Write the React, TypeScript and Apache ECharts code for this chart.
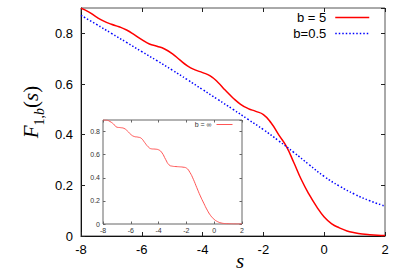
import React, { useEffect, useRef } from 'react';
import * as echarts from 'echarts';

// s values for the b = 5 curve and inset b = ∞ curve (step 0.25)
const sFine = [
  -8, -7.75, -7.5, -7.25, -7, -6.75, -6.5, -6.25, -6, -5.75, -5.5, -5.25, -5, -4.75, -4.5, -4.25,
  -4, -3.75, -3.5, -3.25, -3, -2.75, -2.5, -2.25, -2, -1.75, -1.5, -1.25, -1, -0.75, -0.5, -0.25,
  0, 0.25, 0.5, 0.75, 1, 1.25, 1.5, 1.75, 2,
];
const fB5 = [
  0.899, 0.885, 0.865, 0.848, 0.836, 0.826, 0.813, 0.795, 0.775, 0.758, 0.749, 0.738, 0.72, 0.695, 0.672, 0.656,
  0.645, 0.632, 0.607, 0.575, 0.545, 0.52, 0.503, 0.492, 0.479, 0.447, 0.4, 0.355, 0.29, 0.222, 0.165, 0.116,
  0.075, 0.048, 0.032, 0.02, 0.013, 0.008, 0.005, 0.003, 0.002,
];
const fInf = [
  0.9, 0.899, 0.887, 0.866, 0.838, 0.834, 0.828, 0.806, 0.775, 0.757, 0.752, 0.742, 0.705, 0.668, 0.65, 0.648,
  0.642, 0.615, 0.56, 0.512, 0.5, 0.497, 0.495, 0.492, 0.484, 0.447, 0.387, 0.314, 0.243, 0.18, 0.12, 0.072,
  0.04, 0.02, 0.009, 0.004, 0.002, 0.001, 0, 0, 0,
];
// s values for the b = 0.5 curve (step 0.5)
const sHalf = [-8, -7.5, -7, -6.5, -6, -5.5, -5, -4.5, -4, -3.5, -3, -2.5, -2, -1.5, -1, -0.5, 0, 0.5, 1, 1.5, 2];
const fB05 = [
  0.871, 0.836, 0.8, 0.764, 0.728, 0.692, 0.655, 0.617, 0.578, 0.539, 0.5, 0.46, 0.42, 0.376, 0.33, 0.282,
  0.235, 0.197, 0.165, 0.139, 0.118,
];

const seriesNames = ['b = 5', 'b=0.5', 'b = ∞'];

const pairs = (xs: number[], ys: number[]) => xs.map((x, i) => [x, ys[i]]);

const FONT = 'Liberation Sans, Arial, sans-serif';
const RED = '#ff0000';
const BLUE = '#0000ff';
const PALE_RED = '#ff5555';

export default function App() {
  const ref = useRef<HTMLDivElement>(null);
  useEffect(() => {
    if (!ref.current) return;
    const chart = echarts.init(ref.current, undefined, { renderer: 'svg' });
    const mainTick = { show: true, inside: true, length: 4, lineStyle: { color: '#222' } };
    const insetTick = { show: true, inside: true, length: 2.5, lineStyle: { color: '#666' } };
    const hiddenLine = { show: false, onZero: false };
    const noSymbol = { opacity: 0 };
    const option: any = {
      animation: false,
      backgroundColor: '#fff',
      grid: [
        { left: 81, right: 30, top: 8, bottom: 35, show: true, borderColor: '#555', borderWidth: 1 },
        {
          left: 103, right: 173, top: 120, bottom: 47, show: true, backgroundColor: '#fff',
          borderColor: '#666', borderWidth: 1, z: 10,
        },
      ],
      xAxis: [
        {
          type: 'value', gridIndex: 0, min: -8, max: 2, interval: 2, position: 'bottom',
          axisLine: { show: true, onZero: false, lineStyle: { color: '#111', width: 1 } },
          axisTick: mainTick, splitLine: { show: false },
          axisLabel: { fontFamily: FONT, fontSize: 13, color: '#000', margin: 7 },
        },
        {
          type: 'value', gridIndex: 0, min: -8, max: 2, interval: 2, position: 'top',
          axisLine: hiddenLine, axisTick: mainTick, splitLine: { show: false },
          axisLabel: { show: false },
        },
        {
          type: 'value', gridIndex: 1, min: -8, max: 2, interval: 2, position: 'bottom', z: 11,
          axisLine: hiddenLine, axisTick: insetTick, splitLine: { show: false },
          axisLabel: { fontFamily: FONT, fontSize: 7, color: '#333', margin: 3 },
        },
        {
          type: 'value', gridIndex: 1, min: -8, max: 2, interval: 2, position: 'top', z: 11,
          axisLine: hiddenLine, axisTick: insetTick, splitLine: { show: false },
          axisLabel: { show: false },
        },
      ],
      yAxis: [
        {
          type: 'value', gridIndex: 0, min: 0, max: 0.9, interval: 0.2, position: 'left',
          axisLine: { show: true, onZero: false, lineStyle: { color: '#111', width: 1 } },
          axisTick: mainTick, splitLine: { show: false },
          axisLabel: { fontFamily: FONT, fontSize: 13, color: '#000', margin: 8, showMaxLabel: false },
        },
        {
          type: 'value', gridIndex: 0, min: 0, max: 0.9, interval: 0.2, position: 'right',
          axisLine: hiddenLine, axisTick: mainTick, splitLine: { show: false },
          axisLabel: { show: false },
        },
        {
          type: 'value', gridIndex: 1, min: 0, max: 0.9, interval: 0.2, position: 'left', z: 11,
          axisLine: hiddenLine, axisTick: insetTick, splitLine: { show: false },
          axisLabel: { fontFamily: FONT, fontSize: 7, color: '#333', margin: 3, showMaxLabel: false },
        },
        {
          type: 'value', gridIndex: 1, min: 0, max: 0.9, interval: 0.2, position: 'right', z: 11,
          axisLine: hiddenLine, axisTick: insetTick, splitLine: { show: false },
          axisLabel: { show: false },
        },
      ],
      legend: [
        {
          data: [seriesNames[0], seriesNames[1]],
          orient: 'vertical', right: 45, top: 11, align: 'right',
          itemWidth: 34, itemHeight: 10, itemGap: 3, padding: 0,
          itemStyle: noSymbol,
          lineStyle: { width: 1.5 },
          textStyle: { fontFamily: FONT, fontSize: 13, color: '#000', padding: [0, 4, 0, 0] },
        },
        {
          data: [seriesNames[2]],
          orient: 'vertical', right: 182, top: 121, align: 'right', z: 12,
          itemWidth: 16, itemHeight: 6, padding: 0,
          itemStyle: noSymbol,
          lineStyle: { width: 1 },
          textStyle: { fontFamily: FONT, fontSize: 7, color: '#333' },
        },
      ],
      series: [
        {
          name: seriesNames[0], type: 'line', xAxisIndex: 0, yAxisIndex: 0,
          data: pairs(sFine, fB5), smooth: true, symbol: 'none',
          lineStyle: { color: RED, width: 1.5 }, itemStyle: { color: RED },
        },
        {
          name: seriesNames[1], type: 'line', xAxisIndex: 0, yAxisIndex: 0,
          data: pairs(sHalf, fB05), smooth: true, symbol: 'none',
          lineStyle: { color: BLUE, width: 1.5, type: [1.5, 2] }, itemStyle: { color: BLUE },
        },
        {
          name: seriesNames[2], type: 'line', xAxisIndex: 2, yAxisIndex: 2, z: 12,
          data: pairs(sFine, fInf), smooth: true, symbol: 'none',
          lineStyle: { color: PALE_RED, width: 1 }, itemStyle: { color: PALE_RED },
        },
      ],
      graphic: [
        {
          type: 'text', x: 33, y: 112, rotation: Math.PI / 2,
          style: {
            text: '{f|F}{sub|1,}{subi|b}{p|(}{f|s}{p|)}',
            align: 'center', verticalAlign: 'middle', fill: '#000',
            rich: {
              f: { fontFamily: 'Liberation Serif', fontStyle: 'italic', fontSize: 21, lineHeight: 26, verticalAlign: 'top' },
              p: { fontFamily: 'Liberation Serif', fontSize: 21, lineHeight: 26, verticalAlign: 'top' },
              sub: { fontFamily: 'Liberation Serif', fontSize: 14, lineHeight: 14, verticalAlign: 'bottom' },
              subi: { fontFamily: 'Liberation Serif', fontStyle: 'italic', fontSize: 14, lineHeight: 14, verticalAlign: 'bottom' },
            },
          },
        },
        {
          type: 'text', x: 240, y: 271,
          style: {
            text: 's', fontFamily: 'Liberation Serif', fontStyle: 'italic', fontSize: 21,
            fill: '#000', align: 'center', verticalAlign: 'bottom',
          },
        },
      ],
    };
    chart.setOption(option);
    return () => chart.dispose();
  }, []);
  return <div ref={ref} style={{ position: 'fixed', left: 0, top: 0, width: 415, height: 271 }} />;
}
